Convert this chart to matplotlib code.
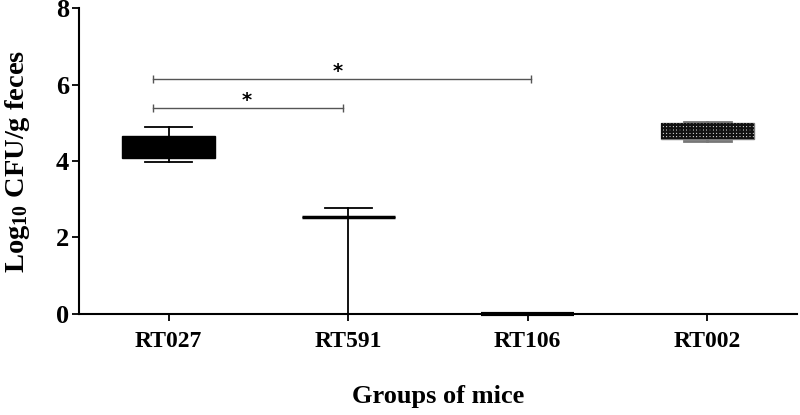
import matplotlib
matplotlib.use('Agg')
import matplotlib.pyplot as plt

plt.rcParams['font.family'] = ['Liberation Serif', 'DejaVu Serif']
plt.rcParams['font.weight'] = 'bold'
plt.rcParams['mathtext.fontset'] = 'custom'
plt.rcParams['mathtext.rm'] = 'Liberation Serif:bold'
plt.rcParams['mathtext.it'] = 'Liberation Serif:bold'
plt.rcParams['hatch.linewidth'] = 1.6

GROUPS = ['RT027', 'RT591', 'RT106', 'RT002']
Q1 = [4.08, 2.54, 0.0, 4.58]
MEDIAN = [4.40, 2.54, 0.0, 4.80]
Q3 = [4.65, 2.54, 0.0, 4.99]
WHIS_LO = [3.97, 0.0, 0.0, 4.52]
WHIS_HI = [4.89, 2.77, 0.0, 5.02]

YTICKS = [0, 2, 4, 6, 8]

# significance brackets: (start group, end group, height)
SIG_PAIRS = [(0, 2, 6.14), (0, 1, 5.39)]
SIG_LABEL = '*'

stats = [{'label': g, 'q1': a, 'med': m, 'q3': b, 'whislo': lo, 'whishi': hi, 'fliers': []}
         for g, a, m, b, lo, hi in zip(GROUPS, Q1, MEDIAN, Q3, WHIS_LO, WHIS_HI)]

fig = plt.figure(figsize=(8, 4.15), dpi=100)
ax = fig.add_axes([0.09875, 0.2434, 0.8975, 0.7373])

pos = list(range(len(GROUPS)))
bp = ax.bxp(stats, positions=pos, widths=0.52, patch_artist=True, showfliers=False,
            boxprops=dict(facecolor='black', edgecolor='black', linewidth=1),
            medianprops=dict(color='black', linewidth=2.5),
            whiskerprops=dict(color='black', linewidth=1.3),
            capprops=dict(color='black', linewidth=1.3),
            manage_ticks=False)

for line in bp['medians']:
    line.set_clip_on(False)
    line.set_zorder(4)
bp['medians'][2].set_linewidth(3)

# checkered box for RT002: white base, dense black grid hatch on top
box = bp['boxes'][3]
box.set_facecolor('white')
box.set_edgecolor('#777777')
ax.bxp([stats[3]], positions=[3], widths=0.52, patch_artist=True, showfliers=False,
       showcaps=False, boxprops=dict(facecolor='none', edgecolor='#111111', linewidth=0, hatch='+++++'),
       medianprops=dict(linewidth=0), whiskerprops=dict(linewidth=0), manage_ticks=False)
for w in bp['whiskers'][6:8] + bp['caps'][6:8]:
    w.set_color('#777777')
    w.set_linewidth(2)
bp['medians'][3].set_linewidth(0)

# significance bars
for i0, i1, h in SIG_PAIRS:
    ax.plot([pos[i0] - 0.09, pos[i1] + (0.02 if i1 == 2 else -0.03)], [h, h], color='#555555',
            linewidth=1, marker='|', markersize=6, markeredgewidth=1)
ax.text(0.94, 6.09, SIG_LABEL, ha='center', va='bottom', fontsize=14, family='DejaVu Sans')
ax.text(0.435, 5.34, SIG_LABEL, ha='center', va='bottom', fontsize=14, family='DejaVu Sans')

ax.set_xlim(-0.5, 3.5)
ax.set_ylim(0, 8)
ax.set_xticks(pos)
ax.set_xticklabels(GROUPS)
ax.set_yticks(YTICKS)
ax.tick_params(axis='both', direction='out', length=5, width=1.3, labelsize=17)
ax.tick_params(axis='x', pad=7)
ax.tick_params(axis='y', pad=2, labelsize=19)
for s in ['top', 'right']:
    ax.spines[s].set_visible(False)
for s in ['left', 'bottom']:
    ax.spines[s].set_linewidth(1.5)

ax.set_ylabel('Log$_{10}$ CFU/g feces', fontsize=20.5, fontweight='bold', labelpad=17)
ax.set_xlabel('Groups of mice', fontsize=19, fontweight='bold', labelpad=24)

fig.savefig('out.png', dpi=100)
